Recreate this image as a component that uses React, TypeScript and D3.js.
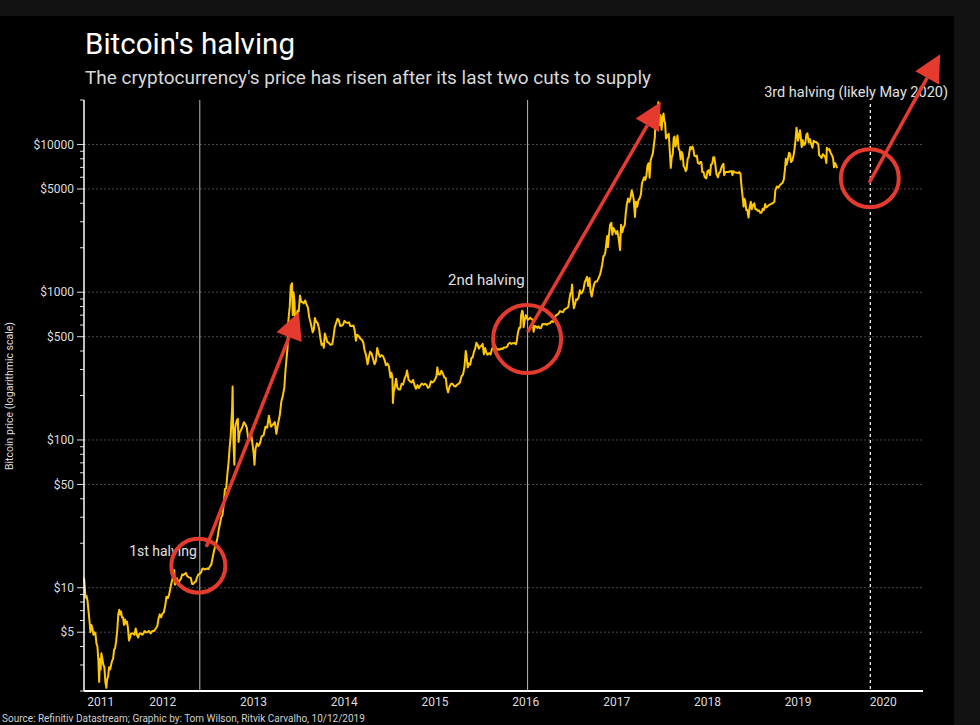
import React from "react";
import * as d3 from "d3";

// ---------- DATA ----------
const priceSeries: [string, number][] = [
["2011-08-20",11.7],["2011-08-22",10.8],["2011-08-26",8.6],["2011-08-30",8.8],["2011-09-03",8.2],["2011-09-07",7.0],["2011-09-11",6.0],["2011-09-15",5.0],["2011-09-19",5.6],["2011-09-23",5.3],["2011-09-27",4.8],["2011-10-01",5.0],["2011-10-05",4.9],["2011-10-09",4.2],["2011-10-13",4.0],["2011-10-17",3.2],["2011-10-20",2.3],["2011-10-23",3.3],["2011-10-26",2.8],["2011-10-29",3.6],["2011-11-02",3.3],["2011-11-06",3.0],["2011-11-10",2.9],["2011-11-14",2.3],["2011-11-18",2.1],["2011-11-21",2.4],["2011-11-25",2.5],["2011-11-29",2.9],["2011-12-03",2.8],["2011-12-07",3.0],["2011-12-11",3.2],["2011-12-15",3.3],["2011-12-19",3.8],["2011-12-23",3.9],["2011-12-27",4.3],
["2012-01-01",5.2],["2012-01-05",6.6],["2012-01-09",7.1],["2012-01-12",6.6],["2012-01-16",6.9],["2012-01-20",6.3],["2012-01-24",6.3],["2012-01-28",5.6],["2012-02-01",6.1],["2012-02-05",5.7],["2012-02-09",5.9],["2012-02-13",5.3],["2012-02-17",4.4],["2012-02-21",4.6],["2012-02-25",4.9],["2012-02-29",4.9],["2012-03-05",4.9],["2012-03-10",4.8],["2012-03-15",5.3],["2012-03-20",4.8],["2012-03-25",4.6],["2012-03-30",4.9],["2012-04-05",4.9],["2012-04-10",4.8],["2012-04-15",4.9],["2012-04-20",5.1],["2012-04-25",5.0],["2012-05-01",5.0],["2012-05-07",5.1],["2012-05-14",4.9],["2012-05-21",5.1],["2012-05-28",5.1],["2012-06-04",5.3],["2012-06-10",5.5],["2012-06-15",6.2],["2012-06-20",6.6],["2012-06-25",6.3],["2012-07-01",6.7],["2012-07-06",6.8],["2012-07-12",7.6],["2012-07-17",8.7],["2012-07-22",8.5],["2012-07-27",8.9],["2012-08-01",9.8],["2012-08-06",10.8],["2012-08-10",11.4],["2012-08-14",12.5],["2012-08-17",13.2],["2012-08-20",10.5],["2012-08-24",10.9],["2012-08-28",11.6],["2012-09-03",10.6],["2012-09-08",11.2],["2012-09-13",11.5],["2012-09-18",12.3],["2012-09-23",12.2],["2012-09-28",12.4],["2012-10-03",12.6],["2012-10-08",12.0],["2012-10-13",11.8],["2012-10-18",11.7],["2012-10-23",11.6],["2012-10-28",10.6],["2012-11-02",10.6],["2012-11-07",10.9],["2012-11-12",11.0],["2012-11-17",11.8],["2012-11-22",12.3],["2012-11-28",12.4],["2012-12-03",12.7],["2012-12-08",13.4],["2012-12-13",13.5],["2012-12-18",13.3],["2012-12-23",13.4],["2012-12-28",13.5],
["2013-01-03",13.4],["2013-01-08",14.0],["2013-01-13",14.3],["2013-01-18",15.8],["2013-01-23",17.4],["2013-01-28",18.9],["2013-02-02",20.0],["2013-02-07",21.7],["2013-02-12",24.6],["2013-02-17",27.0],["2013-02-22",29.8],["2013-02-27",31.0],["2013-03-04",36.2],["2013-03-09",46.5],["2013-03-14",47.0],["2013-03-19",59.0],["2013-03-24",71.5],["2013-03-28",89.0],["2013-04-01",104],["2013-04-04",133],["2013-04-07",162],["2013-04-09",230],["2013-04-11",120],["2013-04-13",93],["2013-04-16",68],["2013-04-19",120],["2013-04-22",128],["2013-04-26",136],["2013-04-30",139],["2013-05-03",97],["2013-05-07",112],["2013-05-12",116],["2013-05-18",122],["2013-05-24",132],["2013-05-30",128],["2013-06-05",121],["2013-06-10",104],["2013-06-16",99],["2013-06-22",111],["2013-06-28",94],["2013-07-03",80],["2013-07-06",68],["2013-07-10",87],["2013-07-16",95],["2013-07-22",91],["2013-07-28",95],["2013-08-04",106],["2013-08-12",108],["2013-08-19",123],["2013-08-26",121],["2013-09-02",146],["2013-09-10",123],["2013-09-18",127],["2013-09-26",132],["2013-10-02",110],["2013-10-08",127],["2013-10-16",148],["2013-10-22",182],["2013-10-28",199],["2013-11-03",226],["2013-11-08",300],["2013-11-12",357],["2013-11-16",418],["2013-11-18",600],["2013-11-21",688],["2013-11-25",805],["2013-11-29",1100],["2013-12-04",1150],["2013-12-07",700],["2013-12-10",1000],["2013-12-14",860],["2013-12-18",520],["2013-12-21",640],["2013-12-26",750],["2013-12-31",740],
["2014-01-05",950],["2014-01-10",860],["2014-01-15",860],["2014-01-20",840],["2014-01-26",880],["2014-02-01",820],["2014-02-06",790],["2014-02-11",680],["2014-02-16",630],["2014-02-21",580],["2014-02-25",535],["2014-03-02",560],["2014-03-06",670],["2014-03-11",630],["2014-03-17",620],["2014-03-23",565],["2014-03-28",490],["2014-04-02",440],["2014-04-07",450],["2014-04-11",420],["2014-04-15",525],["2014-04-20",495],["2014-04-25",460],["2014-05-01",455],["2014-05-08",440],["2014-05-15",445],["2014-05-20",500],["2014-05-25",580],["2014-06-01",630],["2014-06-05",660],["2014-06-10",650],["2014-06-16",590],["2014-06-21",595],["2014-06-27",600],["2014-07-03",640],["2014-07-09",625],["2014-07-15",620],["2014-07-21",625],["2014-07-27",590],["2014-08-02",590],["2014-08-08",595],["2014-08-13",555],["2014-08-18",470],["2014-08-23",515],["2014-08-29",505],["2014-09-05",485],["2014-09-12",475],["2014-09-17",455],["2014-09-22",405],["2014-09-28",375],["2014-10-04",325],["2014-10-09",360],["2014-10-14",395],["2014-10-20",385],["2014-10-26",355],["2014-11-01",325],["2014-11-06",340],["2014-11-12",420],["2014-11-17",385],["2014-11-23",365],["2014-11-29",375],["2014-12-05",370],["2014-12-11",350],["2014-12-17",320],["2014-12-23",330],["2014-12-29",315],
["2015-01-04",265],["2015-01-08",285],["2015-01-12",265],["2015-01-14",178],["2015-01-17",210],["2015-01-22",230],["2015-01-27",260],["2015-02-01",225],["2015-02-06",220],["2015-02-12",220],["2015-02-18",240],["2015-02-24",237],["2015-03-02",260],["2015-03-08",275],["2015-03-12",295],["2015-03-18",255],["2015-03-24",250],["2015-03-30",245],["2015-04-05",255],["2015-04-11",235],["2015-04-17",222],["2015-04-23",235],["2015-04-29",225],["2015-05-05",235],["2015-05-11",241],["2015-05-17",236],["2015-05-23",240],["2015-05-29",237],["2015-06-04",225],["2015-06-10",229],["2015-06-16",250],["2015-06-22",245],["2015-06-28",250],["2015-07-04",260],["2015-07-08",270],["2015-07-12",310],["2015-07-16",278],["2015-07-22",277],["2015-07-28",294],["2015-08-03",281],["2015-08-09",265],["2015-08-15",261],["2015-08-19",226],["2015-08-24",210],["2015-08-30",230],["2015-09-05",240],["2015-09-11",240],["2015-09-17",232],["2015-09-23",230],["2015-09-29",237],["2015-10-05",240],["2015-10-11",246],["2015-10-17",270],["2015-10-23",277],["2015-10-29",313],["2015-11-03",400],["2015-11-06",375],["2015-11-11",310],["2015-11-16",330],["2015-11-21",323],["2015-11-26",360],["2015-12-01",362],["2015-12-06",395],["2015-12-11",415],["2015-12-16",455],["2015-12-21",440],["2015-12-26",415],["2015-12-31",430],
["2016-01-05",432],["2016-01-10",447],["2016-01-15",380],["2016-01-20",420],["2016-01-25",390],["2016-01-30",378],["2016-02-05",387],["2016-02-11",379],["2016-02-17",416],["2016-02-23",420],["2016-02-29",437],["2016-03-06",406],["2016-03-12",412],["2016-03-18",408],["2016-03-24",416],["2016-03-30",413],["2016-04-05",423],["2016-04-11",422],["2016-04-17",427],["2016-04-23",448],["2016-04-29",455],["2016-05-05",447],["2016-05-11",452],["2016-05-17",454],["2016-05-23",444],["2016-05-27",475],["2016-05-31",532],["2016-06-05",575],["2016-06-10",575],["2016-06-13",700],["2016-06-17",750],["2016-06-20",735],["2016-06-23",580],["2016-06-27",645],["2016-07-02",700],["2016-07-06",680],["2016-07-09",650],["2016-07-14",658],["2016-07-19",673],["2016-07-24",660],["2016-07-29",655],["2016-08-02",540],["2016-08-07",590],["2016-08-12",587],["2016-08-17",573],["2016-08-22",587],["2016-08-27",570],["2016-09-01",573],["2016-09-07",610],["2016-09-13",608],["2016-09-19",610],["2016-09-25",602],["2016-10-01",615],["2016-10-07",617],["2016-10-13",636],["2016-10-19",630],["2016-10-25",655],["2016-10-31",700],["2016-11-05",703],["2016-11-10",714],["2016-11-16",745],["2016-11-22",738],["2016-11-28",733],["2016-12-04",765],["2016-12-10",774],["2016-12-16",785],["2016-12-20",800],["2016-12-24",890],["2016-12-28",975],
["2017-01-01",1000],["2017-01-04",1130],["2017-01-07",900],["2017-01-11",780],["2017-01-15",820],["2017-01-20",895],["2017-01-25",890],["2017-01-30",920],["2017-02-04",1030],["2017-02-09",980],["2017-02-14",1000],["2017-02-19",1050],["2017-02-24",1170],["2017-03-01",1220],["2017-03-05",1270],["2017-03-10",1100],["2017-03-15",1250],["2017-03-19",1020],["2017-03-24",935],["2017-03-29",1040],["2017-04-03",1140],["2017-04-08",1180],["2017-04-14",1180],["2017-04-20",1240],["2017-04-26",1310],["2017-05-01",1420],["2017-05-05",1530],["2017-05-10",1750],["2017-05-14",1770],["2017-05-18",1880],["2017-05-22",2160],["2017-05-25",2400],["2017-05-28",2020],["2017-06-01",2400],["2017-06-06",2870],["2017-06-11",2950],["2017-06-15",2450],["2017-06-20",2720],["2017-06-25",2600],["2017-06-30",2480],["2017-07-05",2600],["2017-07-10",2330],["2017-07-16",1930],["2017-07-20",2860],["2017-07-25",2550],["2017-07-30",2750],["2017-08-04",2850],["2017-08-08",3430],["2017-08-12",3900],["2017-08-17",4300],["2017-08-22",4080],["2017-08-27",4350],["2017-09-01",4900],["2017-09-05",4600],["2017-09-09",4250],["2017-09-14",3230],["2017-09-18",4100],["2017-09-23",3790],["2017-09-28",4200],["2017-10-03",4320],["2017-10-08",4600],["2017-10-12",5430],["2017-10-16",5700],["2017-10-21",6000],["2017-10-25",5750],["2017-10-30",6130],["2017-11-03",7150],["2017-11-08",7460],["2017-11-12",5950],["2017-11-16",7800],["2017-11-20",8200],["2017-11-25",8700],["2017-11-29",9900],["2017-12-03",11200],["2017-12-07",16000],["2017-12-10",14000],["2017-12-13",16300],["2017-12-17",19300],["2017-12-20",16500],["2017-12-22",13500],["2017-12-26",15800],["2017-12-30",12600],
["2018-01-03",15000],["2018-01-07",16200],["2018-01-10",14400],["2018-01-13",14100],["2018-01-17",11000],["2018-01-21",11600],["2018-01-25",11200],["2018-01-28",11800],["2018-02-01",9100],["2018-02-05",6950],["2018-02-09",8200],["2018-02-13",8600],["2018-02-17",11100],["2018-02-20",11300],["2018-02-24",9700],["2018-02-28",10300],["2018-03-04",11500],["2018-03-09",9300],["2018-03-13",9100],["2018-03-17",7900],["2018-03-21",8900],["2018-03-25",8500],["2018-03-29",7100],["2018-04-02",7000],["2018-04-06",6600],["2018-04-10",6800],["2018-04-14",8000],["2018-04-18",8200],["2018-04-24",9600],["2018-04-28",9300],["2018-05-03",9700],["2018-05-07",9300],["2018-05-11",8400],["2018-05-16",8300],["2018-05-21",8400],["2018-05-25",7500],["2018-05-30",7400],["2018-06-04",7600],["2018-06-08",7600],["2018-06-12",6500],["2018-06-17",6500],["2018-06-22",6000],["2018-06-28",5900],["2018-07-03",6600],["2018-07-08",6700],["2018-07-13",6200],["2018-07-17",7300],["2018-07-22",7400],["2018-07-26",8200],["2018-07-30",8200],["2018-08-03",7400],["2018-08-08",6300],["2018-08-14",6000],["2018-08-18",6400],["2018-08-23",6500],["2018-08-28",7000],["2018-09-02",7300],["2018-09-05",7400],["2018-09-08",6200],["2018-09-14",6500],["2018-09-20",6500],["2018-09-26",6500],["2018-10-02",6600],["2018-10-08",6600],["2018-10-11",6200],["2018-10-15",6600],["2018-10-21",6450],["2018-10-27",6450],["2018-11-02",6400],["2018-11-08",6500],["2018-11-13",6300],["2018-11-15",5600],["2018-11-19",4800],["2018-11-22",4300],["2018-11-25",3800],["2018-11-28",4300],["2018-12-01",4200],["2018-12-06",3600],["2018-12-10",3600],["2018-12-15",3200],["2018-12-19",3700],["2018-12-24",4100],["2018-12-28",3650],
["2019-01-02",3900],["2019-01-07",4000],["2019-01-11",3650],["2019-01-16",3650],["2019-01-21",3550],["2019-01-26",3580],["2019-01-31",3450],["2019-02-05",3450],["2019-02-10",3670],["2019-02-15",3600],["2019-02-20",3950],["2019-02-24",3750],["2019-03-01",3800],["2019-03-08",3900],["2019-03-15",3950],["2019-03-22",4000],["2019-03-29",4100],["2019-04-02",4900],["2019-04-08",5200],["2019-04-14",5100],["2019-04-20",5300],["2019-04-25",5400],["2019-05-01",5500],["2019-05-06",5800],["2019-05-11",6900],["2019-05-14",8000],["2019-05-17",7300],["2019-05-22",7900],["2019-05-27",8800],["2019-05-31",8600],["2019-06-04",7600],["2019-06-09",7800],["2019-06-14",8400],["2019-06-18",9300],["2019-06-22",10700],["2019-06-26",13000],["2019-06-28",12400],["2019-07-02",10600],["2019-07-06",11400],["2019-07-10",12500],["2019-07-13",11400],["2019-07-17",9600],["2019-07-21",10700],["2019-07-26",9900],["2019-07-31",10100],["2019-08-05",11700],["2019-08-09",11900],["2019-08-14",10300],["2019-08-19",10900],["2019-08-24",10100],["2019-08-29",9500],["2019-09-03",10600],["2019-09-08",10400],["2019-09-13",10400],["2019-09-18",10200],["2019-09-22",10000],["2019-09-25",8500],["2019-09-30",8300],["2019-10-05",8100],["2019-10-10",8600],["2019-10-15",8400],["2019-10-20",8200],["2019-10-24",7500],["2019-10-26",9500],["2019-10-31",9200],["2019-11-05",9300],["2019-11-10",8800],["2019-11-15",8500],["2019-11-20",8100],["2019-11-24",7000],["2019-11-28",7500],["2019-12-03",7200],["2019-12-06",6900]
];

const xDomain: [string, string] = ["2011-08-20", "2020-11-16"];
const yDomain: [number, number] = [2, 20000];
const yearLabels = ["2011", "2012", "2013", "2014", "2015", "2016", "2017", "2018", "2019", "2020"];
const yTickLabels = [5, 10, 50, 100, 500, 1000, 5000, 10000];

const halvingDates = ["2012-11-28", "2016-07-09"];
const halvingLabels = ["1st halving", "2nd halving"];
const futureHalvingDate = "2020-04-18";
const futureHalvingLabel = "3rd halving (likely May 2020)";

// circle centres (date, price)
const circleCentres: [string, number][] = [["2012-11-22", 14.1], ["2016-07-07", 482], ["2020-04-16", 5910]];
// arrows: start (date, price) -> tip (date, price)
const arrowStarts: [string, number][] = [["2012-12-24", 18.9], ["2016-07-09", 537], ["2020-04-14", 5520]];
const arrowTips: [string, number][] = [["2014-01-01", 735], ["2017-12-27", 19400], ["2021-01-24", 40800]];

const title = "Bitcoin's halving";
const subtitle = "The cryptocurrency's price has risen after its last two cuts to supply";
const yAxisTitle = "Bitcoin price (logarithmic scale)";
const sourceText = "Source: Refinitiv Datastream; Graphic by: Tom Wilson, Ritvik Carvalho, 10/12/2019";

// ---------- CHART ----------
const W = 980, H = 725;
const M = { left: 84, right: 923, top: 100, bottom: 691 };
const FONT = "Roboto, 'Open Sans', sans-serif";
const RED = "#e53b2f";
const YELLOW = "#ffc800";

export default function App() {
  const parse = d3.timeParse("%Y-%m-%d");
  const p = (s: string) => parse(s) as Date;
  const x = d3.scaleTime().domain([p(xDomain[0]), p(xDomain[1])]).range([M.left, M.right]);
  const y = d3.scaleLog().domain(yDomain).range([M.bottom, M.top]);

  const data = priceSeries.map(([d, v]) => ({ d: p(d), v }));
  const line = d3.line<{ d: Date; v: number }>().x((o) => x(o.d)).y((o) => y(o.v));

  const yTicks = y.ticks();
  const fmt = (v: number) => "$" + d3.format("d")(v);

  const [d0, d1] = x.domain();
  const yearPos = yearLabels.map((yr) => {
    const a = new Date(+yr, 0, 1);
    const b = new Date(+yr + 1, 0, 1);
    const s = a < d0 ? d0 : a;
    const e = b > d1 ? d1 : b;
    return { yr, cx: (x(s) + x(e)) / 2 };
  });

  const arrowHead = (sx: number, sy: number, tx: number, ty: number) => {
    const L = 27, hw = 13.5;
    const dx = tx - sx, dy = ty - sy;
    const len = Math.hypot(dx, dy);
    const ux = dx / len, uy = dy / len;
    const bx = tx - ux * L, by = ty - uy * L;
    const px = -uy, py = ux;
    return {
      bx, by,
      pts: `${tx},${ty} ${bx + px * hw},${by + py * hw} ${bx - px * hw},${by - py * hw}`,
    };
  };

  return (
    <svg width={W} height={H} style={{ position: "absolute", left: 0, top: 0, display: "block" }} fontFamily={FONT}>
      <rect x={0} y={0} width={W} height={H} fill="#121212" />
      <rect x={0} y={16} width={954} height={H - 16} fill="#000" />

      <text x={85} y={54} fill="#fff" fontSize={29} textLength={210} lengthAdjust="spacingAndGlyphs">{title}</text>
      <text x={85} y={84} fill="#d8d8d8" fontSize={18} textLength={566} lengthAdjust="spacingAndGlyphs">{subtitle}</text>

      {/* gridlines */}
      {yTickLabels.map((v) => (
        <line key={"g" + v} x1={M.left} x2={M.right} y1={y(v)} y2={y(v)} stroke="#5c5c5c" strokeWidth={0.8} strokeDasharray="2,2" />
      ))}

      {/* y ticks */}
      {yTicks.map((v, i) => {
        const major = yTickLabels.includes(v);
        return (
          <line key={"t" + i} x1={M.left - (major ? 7 : 4)} x2={M.left} y1={y(v)} y2={y(v)} stroke="#ddd" strokeWidth={1} />
        );
      })}
      {yTickLabels.map((v) => (
        <text key={"l" + v} x={74} y={y(v)} dy="0.35em" textAnchor="end" fill="#dcdcdc" fontSize={12}>{fmt(v)}</text>
      ))}
      <text transform={`translate(13,${396}) rotate(-90)`} textAnchor="middle" fill="#dcdcdc" fontSize={10.5}>{yAxisTitle}</text>

      {/* halving lines */}
      {halvingDates.map((d) => (
        <line key={"h" + d} x1={x(p(d))} x2={x(p(d))} y1={M.top} y2={M.bottom} stroke="#bdbdbd" strokeWidth={1} />
      ))}
      <line x1={x(p(futureHalvingDate))} x2={x(p(futureHalvingDate))} y1={104} y2={M.bottom} stroke="#fff" strokeWidth={1.2} strokeDasharray="3,3" />

      {/* price line */}
      <path d={line(data) || ""} fill="none" stroke={YELLOW} strokeWidth={2} strokeLinejoin="round" />

      {/* axes */}
      <line x1={M.left} x2={M.left} y1={M.top} y2={M.bottom} stroke="#fff" strokeWidth={1.5} />
      <line x1={M.left} x2={M.right} y1={M.bottom} y2={M.bottom} stroke="#fff" strokeWidth={2} />
      {yearPos.map(({ yr, cx }) => (
        <text key={yr} x={cx} y={706} textAnchor="middle" fill="#dcdcdc" fontSize={12}>{yr}</text>
      ))}

      {/* halving labels */}
      <text x={x(p(halvingDates[0])) - 3} y={556} textAnchor="end" fill="#e0e0e0" fontSize={14}>{halvingLabels[0]}</text>
      <text x={x(p(halvingDates[1])) - 3} y={285} textAnchor="end" fill="#e0e0e0" fontSize={15}>{halvingLabels[1]}</text>
      <text x={948} y={97} textAnchor="end" fill="#e0e0e0" fontSize={14.5}>{futureHalvingLabel}</text>

      {/* circles */}
      {circleCentres.map(([d, v], i) => (
        <circle key={"c" + i} cx={x(p(d))} cy={y(v)} r={[27, 34, 29][i]} fill="none" stroke={RED} strokeWidth={4} />
      ))}

      {/* arrows */}
      {arrowStarts.map(([d, v], i) => {
        const sx = x(p(d)), sy = y(v);
        const tx = x(p(arrowTips[i][0])), ty = y(arrowTips[i][1]);
        const h = arrowHead(sx, sy, tx, ty);
        return (
          <g key={"a" + i}>
            <line x1={sx} y1={sy} x2={h.bx} y2={h.by} stroke={RED} strokeWidth={3.5} />
            <polygon points={h.pts} fill={RED} />
          </g>
        );
      })}

      <text x={2} y={722} fill="#cfcfcf" fontSize={10}>{sourceText}</text>
    </svg>
  );
}
